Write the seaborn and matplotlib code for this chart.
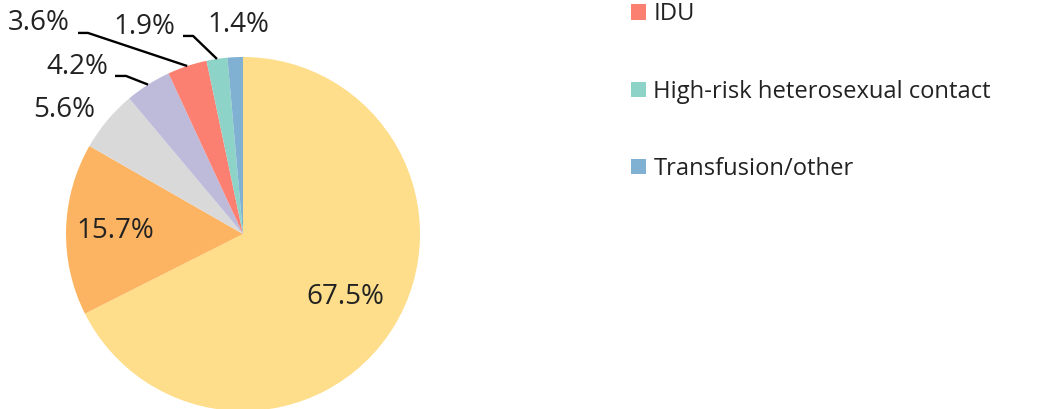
import numpy as np
import matplotlib
matplotlib.use("Agg")
import matplotlib.pyplot as plt
from matplotlib.patches import Patch
import seaborn as sns

# data
shares = [67.5, 15.7, 5.6, 4.2, 3.6, 1.9, 1.4]
legend_labels = ["IDU", "High-risk heterosexual contact", "Transfusion/other"]
legend_idx = [4, 5, 6]

sns.set_theme(style="white")
plt.rcParams["font.family"] = ["Open Sans", "DejaVu Sans"]

set3 = sns.color_palette("Set3", 12)
colors = ["#FEDE8A", set3[5], set3[8], set3[2], set3[3], set3[0], set3[4]]
txt_col = "#222222"

fig = plt.figure(figsize=(10.38, 4.09), dpi=100)
# pie centre ~ (243, 234) px, radius ~177 px
ax = fig.add_axes([66 / 1038, (409 - 234 - 177) / 409, 354 / 1038, 354 / 409])

wedges, _ = ax.pie(shares, colors=colors, startangle=90, counterclock=False,
                   radius=1, wedgeprops=dict(linewidth=0))
ax.set_xlim(-1, 1)
ax.set_ylim(-1, 1)
ax.axis("off")

# inside labels for the two big slices
for i, r in [(0, 0.68), (1, 0.72)]:
    w = wedges[i]
    ang = np.deg2rad((w.theta1 + w.theta2) / 2)
    ax.text(r * np.cos(ang), r * np.sin(ang), f"{shares[i]}%", ha="center",
            va="center", fontsize=20, color=txt_col)

# outside labels: text anchor x, text y, ha, leader (start x, elbow x, y) or None
outside = {
    2: (-0.836, 0.700, "right", None),
    3: (-0.763, 0.944, "right", (-0.723, -0.661, 0.893)),
    4: (-0.977, 1.192, "right", (-0.932, -0.876, 1.136)),
    5: (-0.384, 1.172, "right", (-0.339, -0.282, 1.119)),
    6: (-0.028, 1.180, "center", None),
}
for i, (tx, ty, ha, lead) in outside.items():
    w = wedges[i]
    ang = np.deg2rad((w.theta1 + w.theta2) / 2)
    ex, ey = np.cos(ang), np.sin(ang)
    if lead is not None:
        x0, x1, ly = lead
        ax.plot([x0, x1, ex], [ly, ly, ey], color="black", lw=1.7,
                clip_on=False, solid_capstyle="butt")
    ax.text(tx, ty, f"{shares[i]}%", ha=ha, va="center", fontsize=20,
            color=txt_col, clip_on=False)

handles = [Patch(facecolor=colors[i], edgecolor="none") for i in legend_idx]
fig.legend(handles, legend_labels, loc="upper left",
           bbox_to_anchor=(610 / 1038, 1 + 19 / 409), frameon=False,
           fontsize=17.1, labelspacing=2.25, handlelength=0.6,
           handleheight=0.6, handletextpad=0.33, labelcolor=txt_col)

fig.savefig("out.png", dpi=100)
